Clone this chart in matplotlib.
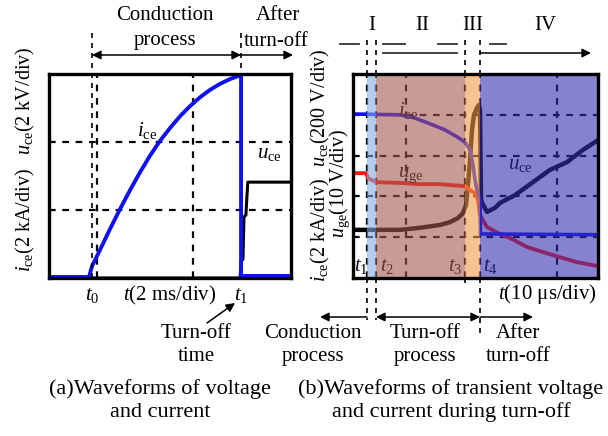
import matplotlib
matplotlib.use("Agg")
import matplotlib.pyplot as plt
import numpy as np

plt.rcParams['font.family'] = ['Liberation Serif', 'DejaVu Serif']
plt.rcParams['mathtext.fontset'] = 'custom'
plt.rcParams['mathtext.rm'] = 'Liberation Serif'
plt.rcParams['mathtext.it'] = 'Liberation Serif:italic'

# ---------------- data: panel (a) ----------------
# time in ms, current in kA, voltage in kV
a_t_ice = [0, 0.833, 0.896, 1.06, 1.27, 1.48, 1.69, 1.90, 2.10, 2.31, 2.52, 2.73, 2.94, 3.15, 3.35,
           3.56, 3.77, 3.94, 4.0, 4.0, 4.05, 5.04]
a_ice = [0.03, 0.03, 0.35, 0.82, 1.44, 2.03, 2.59, 3.12, 3.59, 4.03, 4.41, 4.76, 5.06, 5.32, 5.53,
         5.71, 5.85, 5.94, 5.97, 0.05, 0.06, 0.06]
a_t_uce = [0, 3.98, 4.0, 4.04, 4.06, 4.10, 4.14, 5.04]
a_uce = [0.0, 0.0, 0.5, 0.55, 1.8, 1.85, 2.82, 2.82]
a_t0, a_t1 = 0.9, 4.0

# ---------------- data: panel (b) ----------------
# time in us, amplitudes in divisions
b_t_ice = [0, 9.4, 12.4, 16, 18.4, 20.8, 22.4, 23.4, 24.0, 24.4, 24.8, 25.4, 25.5, 49]
b_ice = [4.02, 4.0, 3.92, 3.75, 3.63, 3.46, 3.33, 3.14, 2.77, 2.40, 2.16, 1.91, 1.08, 1.06]
b_t_uge = [0, 2.6, 3.0, 4.6, 9.4, 13.4, 17.4, 22.4, 23.4, 24.4, 25.0, 25.4, 26.8, 29, 31.4, 34.8, 40, 44.8, 49]
b_uge = [2.57, 2.57, 2.45, 2.35, 2.33, 2.30, 2.30, 2.25, 2.16, 2.08, 1.91, 1.54, 1.25, 1.10, 0.98, 0.76, 0.56, 0.39, 0.29]
b_t_uce = [0, 9.4, 13.4, 17.4, 19.4, 21, 22, 22.6, 23, 23.4, 23.8, 24.2, 24.8, 25.2, 25.4, 25.6, 25.8,
           26.8, 28.4, 29.4, 32.4, 36, 39.4, 42.8, 46, 49]
b_uce = [1.18, 1.18, 1.23, 1.30, 1.37, 1.47, 1.59, 1.79, 2.28, 2.89, 3.63, 4.0, 4.17, 4.24, 4.12, 1.95, 1.84,
         1.62, 1.72, 1.84, 2.03, 2.35, 2.65, 2.84, 3.14, 3.38]
b_bounds = [2.8, 4.6, 22.4, 25.4]   # t1..t4
b_stage_labels = ['I', 'II', 'III', 'IV']

W, H = 608, 436
fig = plt.figure(figsize=(W / 100, H / 100), dpi=100)


def box(x0, y0, x1, y1):
    return [x0 / W, 1 - y1 / H, (x1 - x0) / W, (y1 - y0) / H]


dash = (0, (3, 3))

# ---------------- panel (a) ----------------
axa = fig.add_axes(box(49, 74, 291, 278))
axa.set_xlim(0, 5.04)
axa.set_ylim(0, 6)
for gx in [1.0, 3.0]:
    axa.axvline(gx, color='black', ls=dash, lw=1.6, zorder=1)
for gy in [2, 4]:
    axa.axhline(gy, color='black', ls=dash, lw=1.6, zorder=1)
axa.plot(a_t_uce, a_uce, color='black', lw=2.2, zorder=3)
axa.plot(a_t_ice, a_ice, color='#1010f0', lw=2.8, zorder=4)
axa.text(2.25, 4.35, r'$i_{\rm ce}$', fontsize=15, ha='right', va='center', zorder=6)
axa.text(4.85, 3.65, r'$u_{\rm ce}$', fontsize=15, ha='right', va='center', zorder=6)
axa.set_xticks([])
axa.set_yticks([])
for s in axa.spines.values():
    s.set_linewidth(2.4)
    s.set_zorder(10)

# ---------------- panel (b) ----------------
axb = fig.add_axes(box(353, 74, 598, 278))
axb.set_xlim(0, 49)
axb.set_ylim(0, 5)
for gx in [10.6, 40.8] + b_bounds:
    axb.axvline(gx, color='black', ls=dash, lw=1.6, zorder=1)
for gy in [1, 2, 3, 4]:
    axb.axhline(gy, color='black', ls=dash, lw=1.6, zorder=1)
axb.plot(b_t_uce, b_uce, color='black', lw=3.2, zorder=3)
axb.plot(b_t_uge, b_uge, color='#ff1a10', lw=2.8, zorder=3)
axb.plot(b_t_ice, b_ice, color='#1010ff', lw=2.6, zorder=3)
axb.text(9.0, 4.1, r'$i_{\rm ce}$', fontsize=15, ha='left', va='center', zorder=4)
axb.text(9.0, 2.52, r'$u_{\rm ge}$', fontsize=15, ha='left', va='center', zorder=4)
axb.text(31.0, 2.77, r'$u_{\rm ce}$', fontsize=15, ha='left', va='center', zorder=4)
for lab, xx in zip([r'$t_1$', r'$t_2$', r'$t_3$', r'$t_4$'], [0.3, 5.4, 19.0, 26.0]):
    axb.text(xx, 0.05, lab, fontsize=15, ha='left', va='bottom', zorder=4)

span_cols = ['#82ACDE', '#A35850', '#EE9B48', '#372FAC']
edges = [b_bounds[0], b_bounds[1], b_bounds[2], b_bounds[3], 49.5]
for i in range(4):
    axb.axvspan(edges[i], edges[i + 1], color=span_cols[i], alpha=0.6, lw=0, zorder=5)
axb.set_xticks([])
axb.set_yticks([])
for s in axb.spines.values():
    s.set_linewidth(2.4)
    s.set_zorder(10)

# ---------------- annotation layer (pixel coordinates) ----------------
ov = fig.add_axes([0, 0, 1, 1])
ov.set_xlim(0, W)
ov.set_ylim(H, 0)
ov.axis('off')
ov.patch.set_alpha(0)

fs = 15
ap2 = dict(arrowstyle='<|-|>', color='black', lw=1.1, mutation_scale=13, shrinkA=0, shrinkB=0)
ap1 = dict(arrowstyle='-|>', color='black', lw=1.1, mutation_scale=13, shrinkA=0, shrinkB=0)

# panel (a) top
ov.plot([92, 92], [33, 278], color='black', ls=dash, lw=1.2)
ov.plot([241, 241], [33, 74], color='black', ls=dash, lw=1.2)
ov.annotate('', xy=(92, 55), xytext=(241, 55), arrowprops=ap2)
ov.annotate('', xy=(293, 55), xytext=(241, 55), arrowprops=ap1)
ov.text(165, 16, 'Conduction', fontsize=fs, ha='center', va='center')
ov.text(165, 41, 'process', fontsize=fs, ha='center', va='center')
ov.text(278, 16, 'After', fontsize=fs, ha='center', va='center')
ov.text(276, 41, 'turn-off', fontsize=fs, ha='center', va='center')

# panel (a) axis labels
ov.text(25, 101, r'$u_{\rm ce}$(2 kV/div)', fontsize=14.5, rotation=90, ha='center', va='center')
ov.text(25, 220, r'$i_{\rm ce}$(2 kA/div)', fontsize=14.5, rotation=90, ha='center', va='center')
ov.text(92, 295, r'$t_0$', fontsize=fs, ha='center', va='center')
ov.text(170, 295, r'$t$(2 ms/div)', fontsize=fs, ha='center', va='center')
ov.text(241, 295, r'$t_1$', fontsize=fs, ha='center', va='center')
ov.annotate('', xy=(235, 303), xytext=(207, 323), arrowprops=ap1)
ov.text(196, 333, 'Turn-off', fontsize=fs, ha='center', va='center')
ov.text(196, 356, 'time', fontsize=fs, ha='center', va='center')

# panel (b) top
xb = [367, 376, 465, 480]
for x in xb:
    ov.plot([x, x], [40, 74], color='black', ls=dash, lw=1.2)
for x, lab in zip([372, 422, 473, 545], b_stage_labels):
    ov.text(x, 25, lab, fontsize=fs, ha='center', va='center')
for x0, x1 in [(340, 359), (383, 405), (438, 457), (490, 506)]:
    ov.plot([x0, x1], [44, 44], color='#333333', lw=1.3)
ov.plot([383, 457], [53, 53], color='#333333', lw=1.3)
ov.annotate('', xy=(591, 53), xytext=(480, 53), arrowprops=ap1)

# panel (b) axis labels
ov.text(320, 108, r'$u_{\rm ce}$(200 V/div)', fontsize=14.5, rotation=90, ha='center', va='center')
ov.text(320, 230, r'$i_{\rm ce}$(2 kA/div)', fontsize=14.5, rotation=90, ha='center', va='center')
ov.text(340, 183, r'$u_{\rm ge}$(10 V/div)', fontsize=14.5, rotation=90, ha='center', va='center')
ov.text(547, 294, r'$t$(10 μs/div)', fontsize=fs, ha='center', va='center')

# panel (b) bottom
for x, yb in [(367, 320), (376, 320), (465, 283), (480, 338)]:
    ov.plot([x, x], [278, yb], color='black', ls=dash, lw=1.2)
ov.annotate('', xy=(320, 317), xytext=(367, 317), arrowprops=ap1)
ov.annotate('', xy=(376, 317), xytext=(480, 317), arrowprops=ap2)
ov.annotate('', xy=(533, 317), xytext=(480, 317), arrowprops=ap1)
ov.text(313, 333, 'Conduction', fontsize=fs, ha='center', va='center')
ov.text(313, 356, 'process', fontsize=fs, ha='center', va='center')
ov.text(425, 333, 'Turn-off', fontsize=fs, ha='center', va='center')
ov.text(425, 356, 'process', fontsize=fs, ha='center', va='center')
ov.text(518, 333, 'After', fontsize=fs, ha='center', va='center')
ov.text(518, 356, 'turn-off', fontsize=fs, ha='center', va='center')

# captions
ov.text(160, 389, '(a)Waveforms of voltage', fontsize=16, ha='center', va='center')
ov.text(160, 412, 'and current', fontsize=16, ha='center', va='center')
ov.text(451, 389, '(b)Waveforms of transient voltage', fontsize=16, ha='center', va='center')
ov.text(451, 412, 'and current during turn-off', fontsize=16, ha='center', va='center')

fig.savefig('out.png', dpi=100)
